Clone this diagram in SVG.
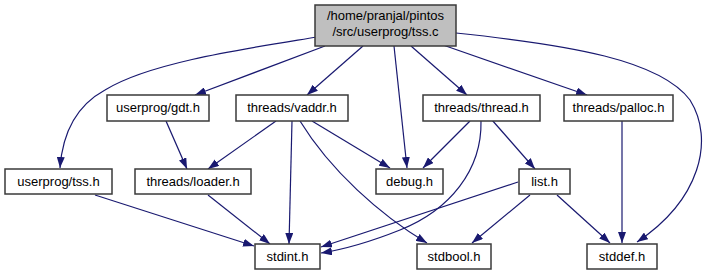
<svg xmlns="http://www.w3.org/2000/svg" width="709" height="276" viewBox="0 0 709 276">
  <defs>
    <marker id="arrow" markerUnits="userSpaceOnUse" markerWidth="11" markerHeight="8" refX="11" refY="4" orient="auto">
      <path d="M0,0 L11,4 L0,8 z" fill="#191970" stroke="none"/>
    </marker>
    <style>
      .node rect { fill: #ffffff; stroke: #3a3a3a; stroke-width: 1.5; }
      .node.root rect { fill: #bfbfbf; }
      .node text { font-family: "Liberation Sans", Arial, sans-serif; font-size: 13px; fill: #000000; text-anchor: middle; }
      .edges path { fill: none; stroke: #191970; stroke-width: 1.2; marker-end: url(#arrow); }
    </style>
  </defs>
  <rect x="0" y="0" width="709" height="276" fill="#ffffff"/>

  <g class="edges" id="edges">
    <path d="M317,37 C250,48 150,62 105,90 C72,108 62,140 60,168"/>
    <path d="M325,46 L195,95"/>
    <path d="M363,46 L307,95"/>
    <path d="M394,46 L407,168"/>
    <path d="M411,46 L467,95"/>
    <path d="M443,45 L587,95"/>
    <path d="M456,33 C570,45 660,60 690,100 C715,140 700,200 637,242"/>
    <path d="M166,121 L187,169"/>
    <path d="M276,121 L208,169"/>
    <path d="M292,121 L289,244"/>
    <path d="M312,121 L390,168"/>
    <path d="M300,121 C330,170 380,215 427,243"/>
    <path d="M470,121 L423,168"/>
    <path d="M481,121 C482,170 450,210 400,230 C370,242 340,250 321,253"/>
    <path d="M492,120 L535,169"/>
    <path d="M622,121 L622,243"/>
    <path d="M95,195 L254,246"/>
    <path d="M208,195 L270,244"/>
    <path d="M518,182 L321,247"/>
    <path d="M530,195 L472,243"/>
    <path d="M557,195 L610,243"/>
  </g>

  <g class="node root" id="tss_c">
    <rect x="315" y="5" width="141" height="41"/>
    <text x="385.5" y="20">/home/pranjal/pintos</text>
    <text x="385.5" y="36">/src/userprog/tss.c</text>
  </g>
  <g class="node" id="gdt_h">
    <rect x="107" y="95" width="102" height="26"/>
    <text x="158" y="112">userprog/gdt.h</text>
  </g>
  <g class="node" id="vaddr_h">
    <rect x="236" y="95" width="112" height="26"/>
    <text x="292" y="112">threads/vaddr.h</text>
  </g>
  <g class="node" id="thread_h">
    <rect x="423" y="95" width="117" height="26"/>
    <text x="481.5" y="112">threads/thread.h</text>
  </g>
  <g class="node" id="palloc_h">
    <rect x="564" y="95" width="109" height="26"/>
    <text x="618.5" y="112">threads/palloc.h</text>
  </g>
  <g class="node" id="tss_h">
    <rect x="5" y="169" width="107" height="25"/>
    <text x="58.5" y="186">userprog/tss.h</text>
  </g>
  <g class="node" id="loader_h">
    <rect x="135" y="169" width="116" height="25"/>
    <text x="193" y="186">threads/loader.h</text>
  </g>
  <g class="node" id="debug_h">
    <rect x="376" y="169" width="67" height="25"/>
    <text x="409.5" y="186">debug.h</text>
  </g>
  <g class="node" id="list_h">
    <rect x="519" y="169" width="51" height="25"/>
    <text x="544.5" y="186">list.h</text>
  </g>
  <g class="node" id="stdint_h">
    <rect x="255" y="244" width="65" height="25"/>
    <text x="287.5" y="261">stdint.h</text>
  </g>
  <g class="node" id="stdbool_h">
    <rect x="417" y="244" width="74" height="25"/>
    <text x="454" y="261">stdbool.h</text>
  </g>
  <g class="node" id="stddef_h">
    <rect x="587" y="244" width="70" height="25"/>
    <text x="622" y="261">stddef.h</text>
  </g>
</svg>
